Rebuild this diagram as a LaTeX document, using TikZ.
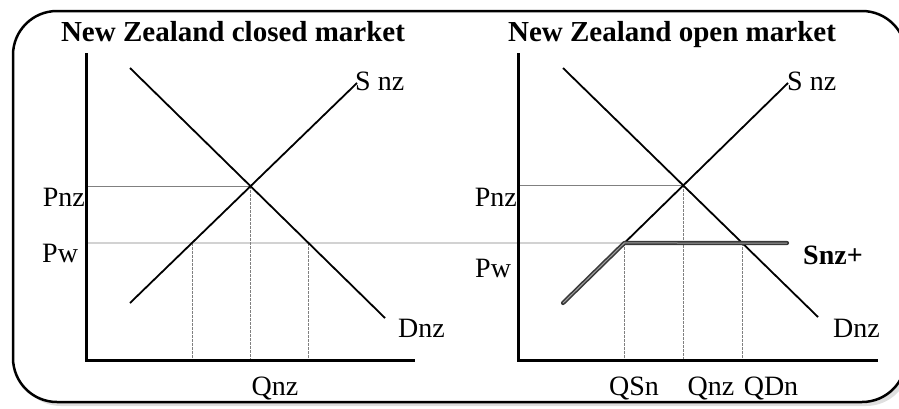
\documentclass[tikz,border=0pt]{standalone}
\usepackage{fontspec}
\setmainfont{Liberation Serif}
\begin{document}
\begin{tikzpicture}[x=1pt,y=-1pt,
  axis/.style={line width=3pt},
  curve/.style={line width=1.8pt},
  guide/.style={gray, line width=0.8pt, dash pattern=on 3pt off 1pt},
  pwline/.style={gray, line width=0.9pt},
  lab/.style={font=\fontsize{28}{28}\selectfont, inner sep=0pt},
  blab/.style={font=\fontsize{28}{28}\selectfont\bfseries, inner sep=0pt},
  ttl/.style={font=\fontsize{29}{29}\selectfont\bfseries, inner sep=0pt},
  frame/.style={line width=2.5pt, rounded corners=44pt},
  snzplus/.style={line width=4.2pt, gray!45!black, line join=round, line cap=round}]
\useasboundingbox (0,0) rectangle (899,408);
% shadow and frame
\fill[gray!25, rounded corners=44pt] (17,15) rectangle (910,406);
\fill[white, rounded corners=44pt] (13,11) rectangle (906,402);
\draw[frame] (13,11) rectangle (906,402);

% ---------- left panel coordinates ----------
\coordinate (LO) at (86,360);
\coordinate (LT) at (86,53);
\coordinate (LR) at (415,360);
\coordinate (LD1) at (130,68);
\coordinate (LD2) at (385,318);
\coordinate (LS1) at (130,303);
\coordinate (LS2) at (357,83);
\coordinate (LE) at (intersection of LD1--LD2 and LS1--LS2);
\coordinate (LPw) at (86,243);
\coordinate (LPwR) at (420,243);
\coordinate (LA) at (intersection of LS1--LS2 and LPw--LPwR);
\coordinate (LB) at (intersection of LD1--LD2 and LPw--LPwR);

% ---------- right panel coordinates ----------
\coordinate (RO) at (518,360);
\coordinate (RT) at (518,53);
\coordinate (RR) at (878,360);
\coordinate (RD1) at (563,68);
\coordinate (RD2) at (818,317);
\coordinate (RS1) at (563,303);
\coordinate (RS2) at (788,83);
\coordinate (RE) at (intersection of RD1--RD2 and RS1--RS2);
\coordinate (RPw) at (518,243);
\coordinate (RPwR) at (870,243);
\coordinate (RA) at (intersection of RS1--RS2 and RPw--RPwR);
\coordinate (RB) at (intersection of RD1--RD2 and RPw--RPwR);
\coordinate (RSE) at (787,243);

% ---------- guide lines ----------
\draw[pwline] (LPw) -- (RA);
\draw[pwline] (LT |- LE) -- (LE);
\draw[pwline] (RT |- RE) -- (RE);
\draw[guide] (LA) -- (LA |- LO);
\draw[guide] (LE) -- (LE |- LO);
\draw[guide] (LB) -- (LB |- LO);
\draw[guide] (RA) -- (RA |- RO);
\draw[guide] (RE) -- (RE |- RO);
\draw[guide] (RB) -- (RB |- RO);

% ---------- curves ----------
\draw[curve] (LD1) -- (LD2);
\draw[curve] (LS1) -- (LS2);
\draw[curve] (RD1) -- (RD2);
\draw[curve] (RS1) -- (RS2);
\draw[snzplus] (RS1) -- (RA) -- (RSE);
\draw[gray!75, line width=1pt] (RS1) -- (RA) -- (RSE);

% ---------- axes ----------
\draw[axis] (LT) -- (LO) -- (LR);
\draw[axis] (RT) -- (RO) -- (RR);

% ---------- labels ----------
\node[ttl, anchor=base] (t1) at (233,41) {New Zealand closed market};
\node[ttl, anchor=base] (t2) at (672,41) {New Zealand open market};
\node[lab, anchor=base east] (lpnz) at (85,206) {Pnz};
\node[lab, anchor=base west] (lpw) at (42,262) {Pw};
\node[lab, anchor=base west] (lsnz) at (355,90) {S nz};
\node[lab, anchor=base west] (ldnz) at (398,337) {Dnz};
\node[lab, anchor=base] (lqnz) at (275,395) {Qnz};
\node[lab, anchor=base east] (rpnz) at (517,206) {Pnz};
\node[lab, anchor=base west] (rpw) at (475,277) {Pw};
\node[lab, anchor=base west] (rsnz) at (787,90) {S nz};
\node[blab, anchor=base west] (rsplus) at (803,264) {Snz+};
\node[lab, anchor=base west] (rdnz) at (833,337) {Dnz};
\node[lab, anchor=base] (rqsn) at (634,395) {QSn};
\node[lab, anchor=base] (rqnz) at (711,395) {Qnz};
\node[lab, anchor=base] (rqdn) at (771,395) {QDn};
\end{tikzpicture}
\end{document}
